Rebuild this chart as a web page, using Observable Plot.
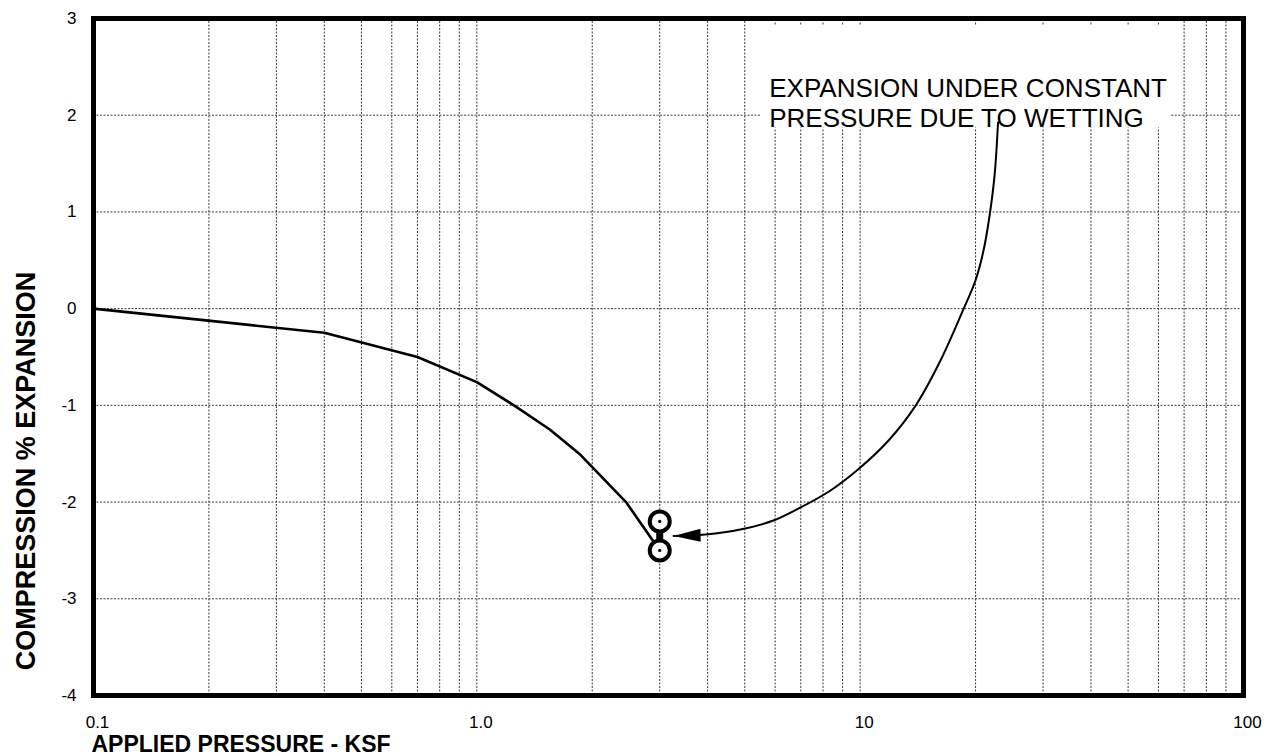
<!DOCTYPE html>
<html>
<head>
<meta charset="utf-8">
<script src="https://cdn.jsdelivr.net/npm/d3@7"></script>
<script src="https://cdn.jsdelivr.net/npm/@observablehq/plot@0.6"></script>
<style>
  html, body { margin: 0; padding: 0; background: #fff; }
  svg { display: block; }
</style>
</head>
<body>
<div id="chart"></div>
<script>
// ---- data ----
const pressure = [0.1, 0.4, 0.7, 1.0, 1.25, 1.55, 1.85, 2.45, 3.0];
const strain   = [0, -0.25, -0.5, -0.76, -1.0, -1.25, -1.5, -2.0, -2.5];

const wetPressure = [3.0, 3.0];
const wetStrain   = [-2.2, -2.5];

const xTickValues = [0.1, 1, 10, 100];
const xTickLabels = ["0.1", "1.0", "10", "100"];
const yTickValues = [-4, -3, -2, -1, 0, 1, 2, 3];

const xGridValues = [0.2,0.3,0.4,0.5,0.6,0.7,0.8,0.9,1,2,3,4,5,6,7,8,9,10,20,30,40,50,60,70,80,90];
const yGridValues = [-3, -2, -1, 0, 1, 2];

// annotation (data coordinates)
const noteLines = ["EXPANSION UNDER CONSTANT", "PRESSURE DUE TO WETTING"];
const noteX = [5.79, 5.79];
const noteY = [2.276, 1.966];
const noteClearX = [5.51, 65];     // grid is kept clear behind the note
const noteClearY = [1.868, 2.933];
const arrowX = [22.89, 22.42, 21.76, 20.98, 19.99, 18.60, 16.20, 13.94, 11.86, 9.94, 8.37, 6.99, 5.94, 4.87, 3.95, 3.26];
const arrowY = [1.925, 1.377, 0.963, 0.601, 0.291, -0.005, -0.536, -1.005, -1.363, -1.653, -1.880, -2.056, -2.191, -2.284, -2.335, -2.351];

const xTitle = "APPLIED PRESSURE - KSF";
const yTitle = "COMPRESSION % EXPANSION";

// ---- tables ----
const curve = pressure.map((p, i) => ({p, s: strain[i]}));
const wet = wetPressure.map((p, i) => ({p, s: wetStrain[i]}));
const arrow = arrowX.map((p, i) => ({p, s: arrowY[i]}));
const note = noteLines.map((t, i) => ({t, p: noteX[i], s: noteY[i]}));
const labelMap = new Map(xTickValues.map((v, i) => [v, xTickLabels[i]]));

const yMin = yTickValues[0], yMax = yTickValues[yTickValues.length - 1];
const xMin = xTickValues[0], xMax = xTickValues[xTickValues.length - 1];
const vGrid = xGridValues.flatMap(x =>
  x > noteClearX[0] && x < noteClearX[1]
    ? [{x, y1: yMin, y2: noteClearY[0]}, {x, y1: noteClearY[1], y2: yMax}]
    : [{x, y1: yMin, y2: yMax}]);
const hGrid = yGridValues.flatMap(y =>
  y > noteClearY[0] && y < noteClearY[1]
    ? [{y, x1: xMin, x2: noteClearX[0]}, {y, x1: noteClearX[1], x2: xMax}]
    : [{y, x1: xMin, x2: xMax}]);

const gridStyle = {stroke: "#3a3a3a", strokeOpacity: 1, strokeWidth: 1, strokeDasharray: "2,1.5"};
const font = "'Liberation Sans', Arial, Helvetica, sans-serif";

const chart = Plot.plot({
  width: 1269,
  height: 755,
  marginLeft: 93,
  marginRight: 26,
  marginTop: 18,
  marginBottom: 60,
  x: {type: "log", domain: [xMin, xMax]},
  y: {domain: [yMin, yMax]},
  style: {fontFamily: font, background: "#fff", color: "#000"},
  marks: [
    Plot.ruleX(vGrid, {x: "x", y1: "y1", y2: "y2", ...gridStyle}),
    Plot.ruleY(hGrid, {y: "y", x1: "x1", x2: "x2", ...gridStyle}),
    Plot.axisX({ticks: xTickValues, tickFormat: d => labelMap.get(d), tickSize: 0, tickPadding: 20, fontSize: 17, dx: 4, label: null}),
    Plot.axisY({ticks: yTickValues, tickFormat: d => String(d), tickSize: 0, tickPadding: 17, fontSize: 17, label: null}),
    Plot.text(note, {x: "p", y: "s", text: "t", textAnchor: "start", fontSize: 26, fill: "#000"}),
    Plot.line(curve, {x: "p", y: "s", stroke: "#000", strokeWidth: 2.6}),
    Plot.line(wet, {x: "p", y: "s", stroke: "#000", strokeWidth: 7}),
    Plot.dot(wet, {x: "p", y: "s", r: 10, fill: "#fff", stroke: "#000", strokeWidth: 4}),
    Plot.dot(wet, {x: "p", y: "s", r: 1.6, fill: "#000", stroke: "none"}),
    Plot.line(arrow, {x: "p", y: "s", curve: "catmull-rom", stroke: "#000", strokeWidth: 2, markerEnd: "arrow"}),
    Plot.text([yTitle], {frameAnchor: "left", text: d => d, rotate: -90, textAnchor: "middle", dx: -67, dy: 114, fontSize: 27, fontWeight: "bold", fill: "#000"}),
    Plot.text([xTitle], {frameAnchor: "bottom-left", text: d => d, textAnchor: "start", lineAnchor: "bottom", dx: -2, dy: 56, fontSize: 23, fontWeight: "bold", fill: "#000"}),
    Plot.frame({stroke: "#000", strokeWidth: 5})
  ]
});

// replace Plot's open arrow marker by a filled head
const svg = d3.select(chart);
svg.selectAll("marker").each(function() {
  const m = d3.select(this);
  m.attr("viewBox", "-30 -9 32 18")
    .attr("refX", 0).attr("refY", 0)
    .attr("markerWidth", 32).attr("markerHeight", 18)
    .attr("markerUnits", "userSpaceOnUse")
    .attr("orient", "auto");
  m.selectAll("*").remove();
  m.append("path").attr("d", "M0,0L-27,-6.5L-27,6.5Z").attr("fill", "#000").attr("stroke", "none");
});

document.getElementById("chart").appendChild(chart);
</script>
</body>
</html>
